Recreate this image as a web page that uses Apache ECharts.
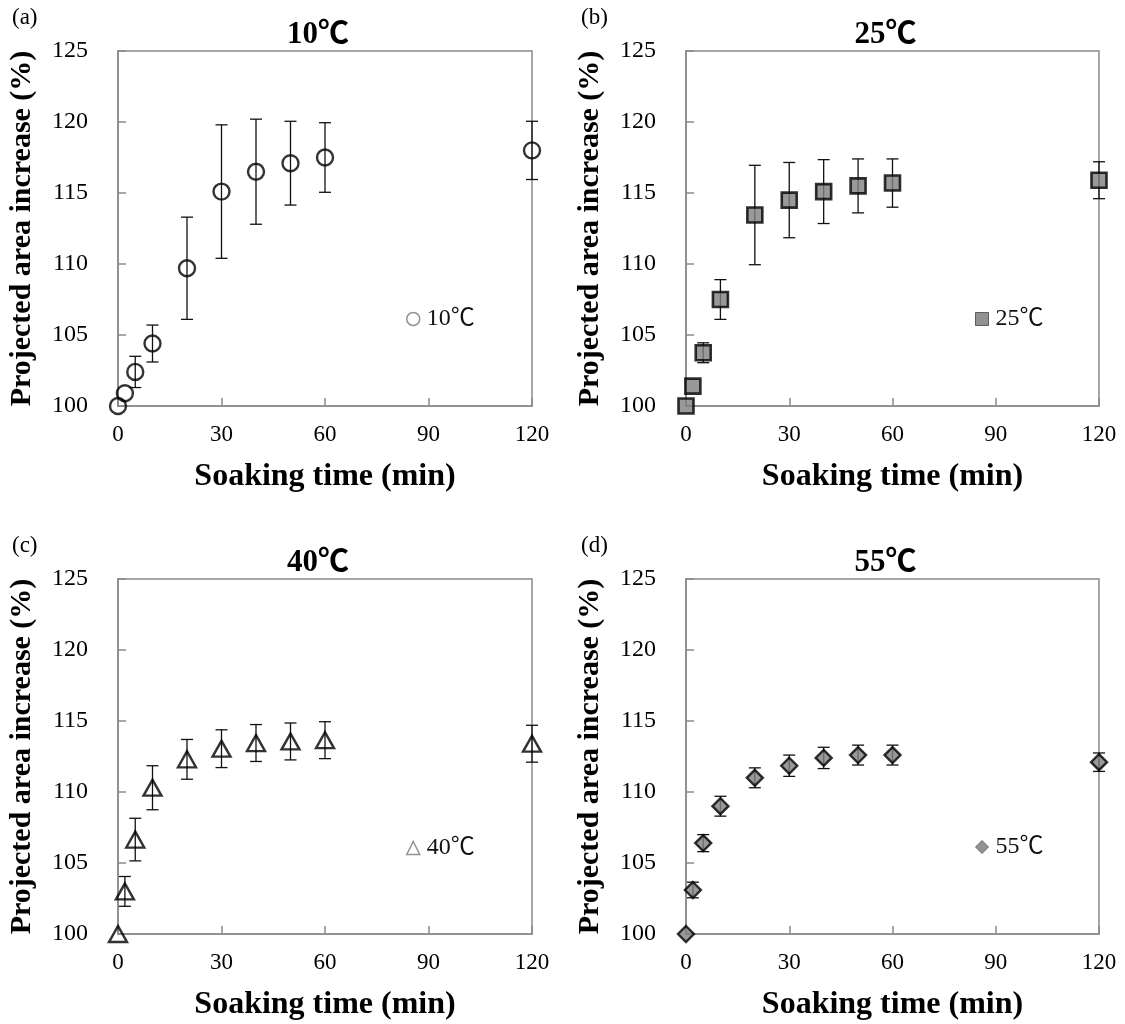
<!DOCTYPE html>
<html><head><meta charset="utf-8">
<script src="https://cdn.jsdelivr.net/npm/echarts@6/dist/echarts.min.js"></script>
<style>html,body{margin:0;padding:0;background:#fff}#c{width:1125px;height:1024px}</style>
</head><body><div id="c"></div>
<script>
const timeMin = [0, 2, 5, 10, 20, 30, 40, 50, 60, 120];
const xTicks = [0, 30, 60, 90, 120];
const yTicks = [100, 105, 110, 115, 120, 125];
const area10 = [100, 100.9, 102.4, 104.4, 109.7, 115.1, 116.5, 117.1, 117.5, 118.0];
const err10  = [0, 0, 1.1, 1.3, 3.6, 4.7, 3.7, 2.95, 2.45, 2.05];
const area25 = [100, 101.4, 103.75, 107.5, 113.45, 114.5, 115.1, 115.5, 115.7, 115.9];
const err25  = [0, 0, 0.7, 1.4, 3.5, 2.65, 2.25, 1.9, 1.7, 1.3];
const area40 = [100, 103.0, 106.65, 110.3, 112.3, 113.05, 113.45, 113.56, 113.65, 113.4];
const err40  = [0, 1.05, 1.5, 1.55, 1.4, 1.33, 1.3, 1.3, 1.3, 1.3];
const area55 = [100, 103.1, 106.4, 109.0, 111.0, 111.85, 112.4, 112.6, 112.6, 112.1];
const err55  = [0, 0.55, 0.6, 0.7, 0.7, 0.75, 0.75, 0.7, 0.7, 0.65];
const panelNames = ['10℃', '25℃', '40℃', '55℃'];
const panelLetters = ['(a)', '(b)', '(c)', '(d)'];

const SERIF = '"Liberation Serif","Times New Roman","Noto Sans CJK SC",serif';
const grids = [
  {left: 118, top: 51, width: 414, height: 355},
  {left: 686, top: 51, width: 413, height: 355},
  {left: 118, top: 579, width: 414, height: 355},
  {left: 686, top: 579, width: 413, height: 355}
];
const values = [area10, area25, area40, area55];
const errs = [err10, err25, err40, err55];
const markerStyles = [
  {symbol: 'circle', symbolSize: 16, itemStyle: {color: 'rgba(255,255,255,0)', borderColor: '#000', borderWidth: 2.4}},
  {symbol: 'rect', symbolSize: 15, itemStyle: {color: '#808080', borderColor: '#000', borderWidth: 2.6}},
  {symbol: 'triangle', symbolSize: [18, 16], itemStyle: {color: 'rgba(255,255,255,0)', borderColor: '#000', borderWidth: 2.4}},
  {symbol: 'diamond', symbolSize: 16, itemStyle: {color: '#808080', borderColor: '#000', borderWidth: 2.4}}
];
const legendStyles = [
  {icon: 'circle', itemStyle: {color: '#fff', borderColor: '#777', borderWidth: 1.5}},
  {icon: 'rect', itemStyle: {color: '#777', borderColor: '#444', borderWidth: 1}},
  {icon: 'triangle', itemStyle: {color: '#fff', borderColor: '#777', borderWidth: 1.5}},
  {icon: 'diamond', itemStyle: {color: '#777', borderColor: '#555', borderWidth: 1}}
];
const legendPos = [
  {left: 406, top: 307}, {left: 975, top: 307},
  {left: 406, top: 836}, {left: 975, top: 835}
];

const xAxes = [], yAxes = [], series = [], titles = [], legends = [], graphics = [];
grids.forEach((g, i) => {
  xAxes.push({
    gridIndex: i, type: 'value', min: 0, max: 120, interval: 30,
    name: 'Soaking time (min)', nameLocation: 'middle', nameGap: 55,
    nameTextStyle: {fontFamily: SERIF, fontWeight: 'bold', fontSize: 32, color: '#000'},
    axisLine: {show: true, lineStyle: {color: '#8a8a8a', width: 1.5}},
    axisTick: {show: true, inside: true, length: 8, lineStyle: {color: '#8a8a8a', width: 1.5}},
    axisLabel: {fontFamily: SERIF, fontSize: 23, color: '#000', margin: 17},
    splitLine: {show: false}
  });
  yAxes.push({
    gridIndex: i, type: 'value', min: 100, max: 125, interval: 5,
    name: 'Projected area increase (%)', nameLocation: 'middle', nameGap: 81, nameRotate: 90,
    nameTextStyle: {fontFamily: SERIF, fontWeight: 'bold', fontSize: 30, color: '#000'},
    axisLine: {show: true, lineStyle: {color: '#8a8a8a', width: 1.5}},
    axisTick: {show: true, inside: true, length: 8, lineStyle: {color: '#8a8a8a', width: 1.5}},
    axisLabel: {fontFamily: SERIF, fontSize: 24, color: '#000', margin: 30},
    splitLine: {show: false}
  });
  const vals = values[i], er = errs[i];
  const errData = timeMin.map((t, k) => [t, vals[k], er[k]]);
  series.push({
    type: 'custom', name: 'err' + i, xAxisIndex: i, yAxisIndex: i, z: 2,
    data: errData, clip: false,
    renderItem: function (params, api) {
      const x = api.value(0), y = api.value(1), e = api.value(2);
      if (!e) return {type: 'group', children: []};
      const top = api.coord([x, y + e]);
      const bot = api.coord([x, y - e]);
      const hw = 6;
      const st = {stroke: '#111', lineWidth: 1.3};
      return {type: 'group', children: [
        {type: 'line', shape: {x1: top[0], y1: top[1], x2: bot[0], y2: bot[1]}, style: st},
        {type: 'line', shape: {x1: top[0] - hw, y1: top[1], x2: top[0] + hw, y2: top[1]}, style: st},
        {type: 'line', shape: {x1: bot[0] - hw, y1: bot[1], x2: bot[0] + hw, y2: bot[1]}, style: st}
      ]};
    }
  });
  series.push(Object.assign({
    type: 'scatter', name: panelNames[i], xAxisIndex: i, yAxisIndex: i, z: 3, clip: false,
    data: timeMin.map((t, k) => [t, vals[k]])
  }, markerStyles[i]));
  titles.push({
    text: panelNames[i], left: g.left + g.width / 2 - 12, top: g.top - 37, textAlign: 'center',
    textStyle: {fontFamily: SERIF, fontWeight: 'bold', fontSize: 31, color: '#000'}
  });
  legends.push(Object.assign({
    data: [Object.assign({name: panelNames[i]}, legendStyles[i])],
    orient: 'horizontal', padding: 0, itemWidth: 13, itemHeight: 13, itemGap: 0,
    selectedMode: false,
    textStyle: {fontFamily: SERIF, fontSize: 24, color: '#111', padding: [0, 0, 0, 2]}
  }, legendPos[i]));
  graphics.push({
    type: 'text', left: (i % 2 === 0) ? 12 : 581, top: (i < 2) ? 6 : 534,
    style: {text: panelLetters[i], font: '23px ' + SERIF, fill: '#000'}
  });
});

const chart = echarts.init(document.getElementById('c'), null, {renderer: 'canvas'});
chart.setOption({
  backgroundColor: '#fff',
  animation: false,
  title: titles,
  legend: legends,
  grid: grids.map(g => Object.assign({show: true, borderColor: '#8a8a8a', borderWidth: 1.5, backgroundColor: 'transparent'}, g)),
  xAxis: xAxes,
  yAxis: yAxes,
  series: series,
  graphic: graphics
});
</script></body></html>
